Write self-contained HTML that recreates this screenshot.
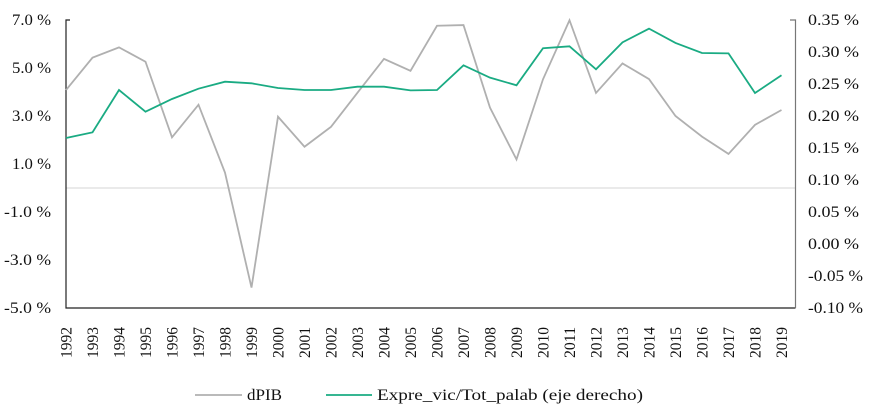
<!DOCTYPE html>
<html><head><meta charset="utf-8"><style>
html,body{margin:0;padding:0;background:#fff;}
svg{display:block;font-family:"Liberation Serif",serif;}
</style></head><body>
<svg id="chart" width="871" height="406" xmlns="http://www.w3.org/2000/svg"></svg>
<script>
const years=[1992,1993,1994,1995,1996,1997,1998,1999,2000,2001,2002,2003,2004,2005,2006,2007,2008,2009,2010,2011,2012,2013,2014,2015,2016,2017,2018,2019];
const dpib=[4.08,5.43,5.86,5.26,2.11,3.47,0.64,-4.15,2.97,1.72,2.55,3.97,5.38,4.88,6.76,6.79,3.35,1.19,4.53,6.99,3.96,5.19,4.54,3.0,2.14,1.42,2.63,3.25];
const expre=[0.1656,0.1745,0.2406,0.2067,0.2266,0.2427,0.2536,0.2511,0.2438,0.2406,0.2406,0.2458,0.2458,0.240,0.2406,0.2792,0.2599,0.248,0.3058,0.3089,0.273,0.3151,0.3365,0.3141,0.2984,0.2979,0.2359,0.2636];
const leftTicks=[7,5,3,1,-1,-3,-5];
const rightTicks=[0.35,0.30,0.25,0.20,0.15,0.10,0.05,0.00,-0.05,-0.10];
const NS="http://www.w3.org/2000/svg";
const svg=document.getElementById('chart');
const X0=66,X1=781.5,Y0=20,Y1=308;
function x(i){return X0+(X1-X0)*i/(years.length-1);}
function yL(v){return Y0+(7-v)/12*(Y1-Y0);}
function yR(v){return Y0+(0.35-v)/0.45*(Y1-Y0);}
function mk(tag,attrs,parent){const e=document.createElementNS(NS,tag);for(const k in attrs)e.setAttribute(k,attrs[k]);(parent||svg).appendChild(e);return e;}
let z=mk('line',{x1:X0,x2:795,y1:yL(0),y2:yL(0),stroke:'#e3e3e3','stroke-width':1.5});


let la=mk('path',{d:`M70,${Y0} H${X0} V${Y1} H795.5`,fill:'none',stroke:'#222','stroke-width':1.2});


let ra=mk('path',{d:`M790,${Y0} H795.5 V${Y1}`,fill:'none',stroke:'#777','stroke-width':1.2});


leftTicks.forEach(v=>{
  const t=mk('text',{x:51,y:yL(v)+5,'text-anchor':'end','font-size':16,fill:'#111',textLength:(v<0?47:39),lengthAdjust:'spacingAndGlyphs'});
  t.textContent=v.toFixed(1)+' %';
  
  
});
rightTicks.forEach(v=>{
  const t=mk('text',{x:808,y:yR(v)+5,'font-size':16,fill:'#111',textLength:(v<0?55:51),lengthAdjust:'spacingAndGlyphs'});
  t.textContent=v.toFixed(2)+' %';
  
  
});
years.forEach((yr,i)=>{
  const t=mk('text',{transform:`translate(${x(i)+5.5},327) rotate(-90)`,'text-anchor':'end','font-size':16,fill:'#111',textLength:31,lengthAdjust:'spacingAndGlyphs'});
  t.textContent=yr;
  
  
});
let g=mk('polyline',{points:dpib.map((v,i)=>x(i)+','+yL(v)).join(' '),fill:'none',stroke:'#b0b0b0','stroke-width':1.8});


let e=mk('polyline',{points:expre.map((v,i)=>x(i)+','+yR(v)).join(' '),fill:'none',stroke:'#1aab83','stroke-width':1.8});


let l1=mk('line',{x1:195,x2:242,y1:395,y2:395,stroke:'#b0b0b0','stroke-width':1.8});


let t1=mk('text',{x:247,y:400,'font-size':16,fill:'#111',textLength:35,lengthAdjust:'spacingAndGlyphs'});t1.textContent='dPIB';


let l2=mk('line',{x1:326,x2:372,y1:395,y2:395,stroke:'#1aab83','stroke-width':1.8});


let t2=mk('text',{x:377,y:400,'font-size':16,fill:'#111',textLength:266,lengthAdjust:'spacingAndGlyphs'});t2.textContent='Expre_vic/Tot_palab (eje derecho)';


</script>
</body></html>
